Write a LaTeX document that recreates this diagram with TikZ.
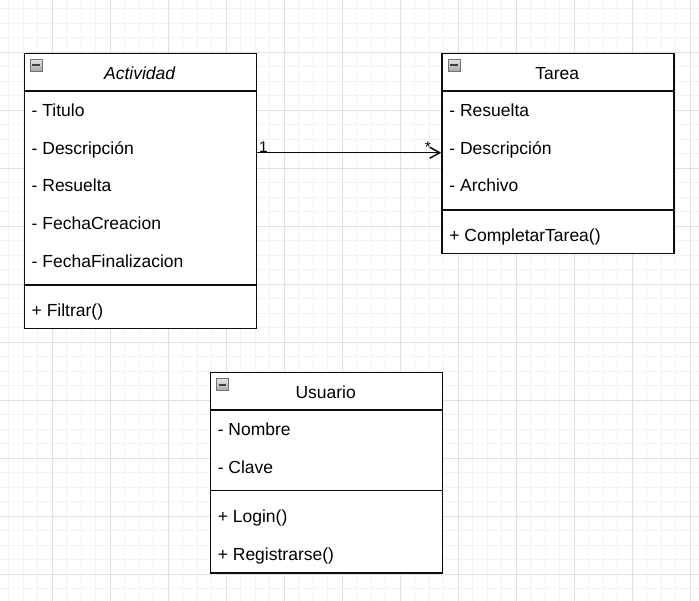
\documentclass[tikz,border=0pt]{standalone}
\usepackage{fontspec}
\setmainfont{Liberation Sans}
\usetikzlibrary{arrows.meta}

\begin{document}
\begin{tikzpicture}[x = 1pt, y = -1pt,
	gridminor/.style = {black!5, line width = 0.9pt},
	gridmajor/.style = {black!12, line width = 0.9pt},
	classbox/.style = {rectangle, draw = black!95, line width = 1.5pt, fill = white, inner sep = 0pt, anchor = north west, minimum width = 232pt},
	classline/.style = {draw = black!95, line width = 1.5pt},
	classtitle/.style = {font = \fontsize{17.5}{20}\selectfont, inner sep = 0pt, anchor = base},
	member/.style = {font = \fontsize{17.5}{20}\selectfont, inner sep = 0pt, anchor = base west},
	multiplicity/.style = {font = \fontsize{15.5}{18}\selectfont, inner sep = 0pt},
	minusicon/.style = {rectangle, draw = black!55, line width = 0.9pt, top color = black!10, bottom color = black!35, minimum size = 12.5pt, inner sep = 0pt,
		path picture = {\draw[black!75, line width = 1.8pt] ([xshift = 2.4pt]path picture bounding box.west) -- ([xshift = -2.4pt]path picture bounding box.east);}},
	assoc/.style = {draw = black!95, line width = 1.5pt, -{Straight Barb[length = 10pt, width = 11pt]}}
	]
	\useasboundingbox (0, 0) rectangle (699, 601);
	\fill[white] (0, 0) rectangle (699, 601);
	
	\foreach \i in {0, ..., 47}
	\draw[gridminor] ({8.8 + 14.5*\i}, 0) -- ({8.8 + 14.5*\i}, 601);
	\foreach \i in {0, ..., 40}
	\draw[gridminor] (0, {8.5 + 14.5*\i}) -- (699, {8.5 + 14.5*\i});
	\foreach \i in {0, ..., 11}
	\draw[gridmajor] ({52.3 + 58*\i}, 0) -- ({52.3 + 58*\i}, 601);
	\foreach \i in {0, ..., 9}
	\draw[gridmajor] (0, {52 + 58*\i}) -- (699, {52 + 58*\i});
	
	\node[classbox, minimum height = 275pt] (actividad) at (23.5, 53) {};
	\draw[classline] (23.5, 91) -- (255.5, 91);
	\draw[classline] (23.5, 285) -- (255.5, 285);
	\node[minusicon] (actividadIcon) at (36.3, 65.3) {};
	\node[classtitle] (actividadTitle) at (139.6, 79.5) {\itshape Actividad};
	\node[member] (actTitulo) at (31.5, 116.3) {- Titulo};
	\node[member] (actDescripcion) at (31.5, 154.1) {- Descripción};
	\node[member] (actResuelta) at (31.5, 191.9) {- Resuelta};
	\node[member] (actFechaCreacion) at (31.5, 229.7) {- FechaCreacion};
	\node[member] (actFechaFin) at (31.5, 267.5) {- FechaFinalizacion};
	\node[member] (actFiltrar) at (31.5, 317) {+ Filtrar()};
	
	\node[classbox, minimum height = 200pt] (tarea) at (441.3, 53) {};
	\draw[classline] (441.3, 91) -- (673.3, 91);
	\draw[classline] (441.3, 210) -- (673.3, 210);
	\node[minusicon] (tareaIcon) at (454.3, 65.3) {};
	\node[classtitle] (tareaTitle) at (557.3, 79.5) {Tarea};
	\node[member] (tarResuelta) at (449.2, 116.3) {- Resuelta};
	\node[member] (tarDescripcion) at (449.2, 154.1) {- Descripción};
	\node[member] (tarArchivo) at (449.2, 191.9) {- Archivo};
	\node[member] (tarCompletar) at (449.2, 242) {+ CompletarTarea()};
	
	\node[classbox, minimum height = 200pt] (usuario) at (209.7, 372) {};
	\draw[classline] (209.7, 410) -- (441.7, 410);
	\draw[classline] (209.7, 490.7) -- (441.7, 490.7);
	\node[minusicon] (usuarioIcon) at (222.5, 384.7) {};
	\node[classtitle] (usuarioTitle) at (325.7, 398.5) {Usuario};
	\node[member] (usuNombre) at (217.6, 435.2) {- Nombre};
	\node[member] (usuClave) at (217.6, 473) {- Clave};
	\node[member] (usuLogin) at (217.6, 522.8) {+ Login()};
	\node[member] (usuRegistrarse) at (217.6, 560.5) {+ Registrarse()};
	
	\coordinate (link) at (0, 152.7);
	\draw[assoc] (actividad.east |- link) -- (tarea.west |- link);
	\node[multiplicity, anchor = base west] (multOne) at (259, 152.5) {1};
	\node[multiplicity, anchor = base east] (multMany) at (431, 152.5) {*};
\end{tikzpicture}
\end{document}
